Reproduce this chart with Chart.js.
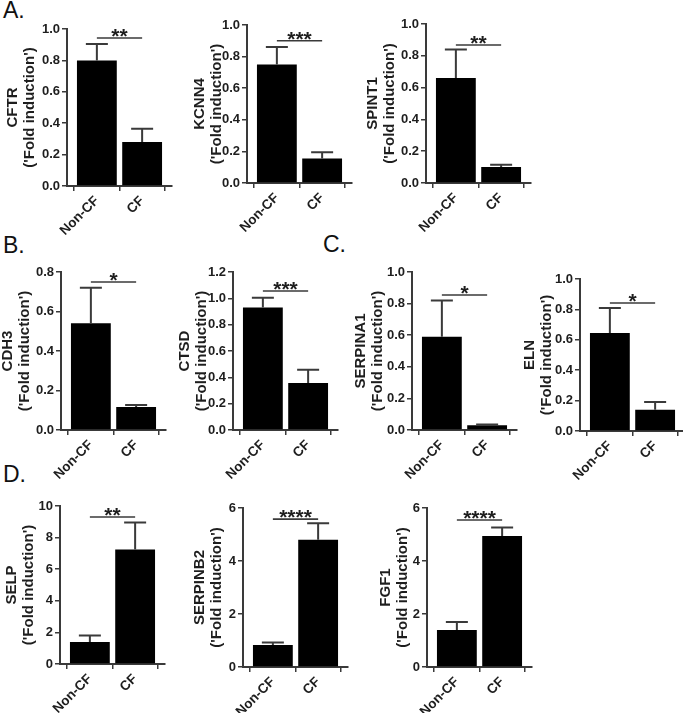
<!DOCTYPE html>
<html>
<head>
<meta charset="utf-8">
<script src="https://cdn.jsdelivr.net/npm/chart.js@4.4.1/dist/chart.umd.min.js"></script>
<style>
  body { margin: 0; background: #fff; }
  #page { position: relative; width: 683px; height: 713px; overflow: hidden; font-family: 'Liberation Sans', Arial, sans-serif; }
  .panel { position: absolute; }
  .letter { position: absolute; font-size: 23px; line-height: 1; color: #111; }
</style>
</head>
<body>
<div id="page">
  <div class="letter" style="left:3px;top:-1px">A.</div>
  <div class="letter" style="left:3px;top:234px">B.</div>
  <div class="letter" style="left:323px;top:233px">C.</div>
  <div class="letter" style="left:3px;top:463px">D.</div>
</div>
<script>
const groups = ['Non-CF', 'CF'];
const genes = ['CFTR', 'KCNN4', 'SPINT1', 'CDH3', 'CTSD', 'SERPINA1', 'ELN', 'SELP', 'SERPINB2', 'FGF1'];
const meanValues = [
  [0.80, 0.28], [0.75, 0.155], [0.66, 0.10],
  [0.54, 0.117], [0.93, 0.357],
  [0.59, 0.03], [0.645, 0.14],
  [1.4, 7.25], [0.83, 4.8], [1.4, 4.94]
];
const semValues = [
  [0.105, 0.085], [0.11, 0.04], [0.18, 0.015],
  [0.18, 0.01], [0.075, 0.10],
  [0.23, 0.005], [0.165, 0.05],
  [0.4, 1.7], [0.09, 0.62], [0.3, 0.32]
];
const yMax = [1.0, 1.0, 1.0, 0.8, 1.2, 1.0, 1.0, 10, 6, 6];
const yStep = [0.2, 0.2, 0.2, 0.2, 0.2, 0.2, 0.2, 2, 2, 2];
const yDecimals = [1, 1, 1, 1, 1, 1, 1, 0, 0, 0];
const sigStars = ['**', '***', '**', '*', '***', '*', '*', '**', '****', '****'];
const sigHeight = [0.943, 0.90, 0.868, 0.749, 1.056, 0.854, 0.842, 9.3, 5.58, 5.55];

// where each plot sits on the page: y axis x, top/bottom of the value range, distance to the title
const panels = [
  {x: 67, top: 29, bottom: 186, title: 54},
  {x: 247, top: 25, bottom: 183, title: 47},
  {x: 426, top: 24, bottom: 183, title: 53},
  {x: 61, top: 272, bottom: 430, title: 53},
  {x: 233, top: 272, bottom: 430, title: 48},
  {x: 412, top: 272, bottom: 430, title: 51},
  {x: 580, top: 279, bottom: 431, title: 50},
  {x: 60, top: 506, bottom: 664, title: 48},
  {x: 243, top: 508, bottom: 667, title: 43},
  {x: 427, top: 508, bottom: 667, title: 41}
];

const AXIS = '#3a3a3a';
const TEXT = '#1e1e1e';
const FONT = "'Liberation Sans', Arial, sans-serif";
const PLOT_W = 105;
const X_BOX_H = 62;
const TOP_PAD = 12;
const TITLE_SIZE = 15;
const TITLE_LH = 1.15;

// error bars (mean + SEM, upward only) and the significance bar with stars
const errorAndStars = {
  id: 'errorAndStars',
  afterDatasetsDraw(chart, args, opts) {
    const ctx = chart.ctx;
    const y = chart.scales.y;
    const bars = chart.getDatasetMeta(0).data;
    ctx.save();
    ctx.strokeStyle = AXIS;
    ctx.lineWidth = 2;
    bars.forEach((bar, k) => {
      const top = y.getPixelForValue(opts.mean[k] + opts.sem[k]);
      ctx.beginPath();
      ctx.moveTo(bar.x, bar.y);
      ctx.lineTo(bar.x, top);
      ctx.moveTo(bar.x - 11, top);
      ctx.lineTo(bar.x + 11, top);
      ctx.stroke();
    });
    const sy = y.getPixelForValue(opts.sigAt);
    ctx.lineWidth = 1.6;
    ctx.beginPath();
    ctx.moveTo(bars[0].x, sy);
    ctx.lineTo(bars[1].x, sy);
    ctx.stroke();
    ctx.fillStyle = TEXT;
    ctx.font = 'bold 21px ' + FONT;
    ctx.textAlign = 'center';
    ctx.textBaseline = 'alphabetic';
    ctx.fillText(opts.stars, (bars[0].x + bars[1].x) / 2, sy + 5);
    ctx.restore();
  }
};

function makePanel(i) {
  const p = panels[i];
  const yBox = Math.round(p.title + TITLE_SIZE * TITLE_LH / 2 + 2);
  const w = yBox + PLOT_W + 6;
  const h = TOP_PAD + (p.bottom - p.top) + X_BOX_H;

  const wrap = document.createElement('div');
  wrap.className = 'panel';
  wrap.style.left = (p.x - yBox) + 'px';
  wrap.style.top = (p.top - TOP_PAD) + 'px';
  const canvas = document.createElement('canvas');
  canvas.width = w;
  canvas.height = h;
  wrap.appendChild(canvas);
  document.getElementById('page').appendChild(wrap);

  const tickFont = {family: FONT, size: 13, weight: 'bold'};

  new Chart(canvas.getContext('2d'), {
    type: 'bar',
    data: {
      datasets: [{
        data: meanValues[i].map((v, k) => ({x: k + 1, y: v})),
        backgroundColor: '#000',
        borderWidth: 0,
        barPercentage: 0.88,
        categoryPercentage: 1
      }]
    },
    options: {
      responsive: false,
      animation: false,
      layout: {padding: {top: TOP_PAD, left: 0, right: 6, bottom: 0}},
      plugins: {
        legend: {display: false},
        tooltip: {enabled: false},
        errorAndStars: {
          mean: meanValues[i],
          sem: semValues[i],
          sigAt: sigHeight[i],
          stars: sigStars[i]
        }
      },
      scales: {
        x: {
          type: 'linear',
          min: 0.34,
          max: 2.66,
          offset: false,
          afterBuildTicks: s => { s.ticks = groups.map((g, k) => ({value: k + 1})); },
          afterFit: s => { s.height = X_BOX_H; },
          ticks: {
            callback: v => groups[Math.round(v) - 1],
            minRotation: 45,
            maxRotation: 45,
            color: TEXT,
            font: {family: FONT, size: 13.5, weight: 'bold'},
            padding: 2
          },
          grid: {drawOnChartArea: false, drawTicks: true, tickLength: 5, color: AXIS, lineWidth: 1.5},
          border: {display: true, color: AXIS, width: 2}
        },
        y: {
          min: 0,
          max: yMax[i],
          afterFit: s => { s.width = yBox; },
          ticks: {
            stepSize: yStep[i],
            callback: v => v.toFixed(yDecimals[i]),
            color: TEXT,
            font: tickFont,
            padding: 2
          },
          grid: {drawOnChartArea: false, drawTicks: true, tickLength: 5, color: AXIS, lineWidth: 1.5},
          border: {display: true, color: AXIS, width: 2},
          title: {
            display: true,
            text: [genes[i], "('Fold induction')"],
            color: TEXT,
            font: {family: FONT, size: TITLE_SIZE, weight: 'bold', lineHeight: TITLE_LH},
            padding: {top: 2, bottom: 0}
          }
        }
      }
    },
    plugins: [errorAndStars]
  });
}

genes.forEach((g, i) => makePanel(i));
</script>
</body>
</html>
